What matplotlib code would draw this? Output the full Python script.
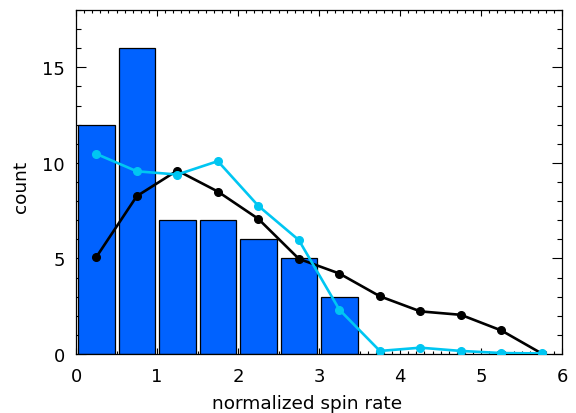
import matplotlib
matplotlib.use('Agg')
import matplotlib.pyplot as plt
import numpy as np
from matplotlib.ticker import MultipleLocator

# histogram of normalized spin rate
bin_centers = [0.25, 0.75, 1.25, 1.75, 2.25, 2.75, 3.25]
counts = [12, 16, 7, 7, 6, 5, 3]

# model curves
x_model = [0.25, 0.75, 1.25, 1.75, 2.25, 2.75, 3.25, 3.75, 4.25, 4.75, 5.25, 5.75]
black_y = [5.07, 8.26, 9.6, 8.5, 7.07, 4.98, 4.21, 3.02, 2.23, 2.05, 1.23, 0.02]
cyan_y = [10.47, 9.56, 9.39, 10.09, 7.75, 5.96, 2.32, 0.16, 0.33, 0.16, 0.05, 0.03]

fig = plt.figure(figsize=(5.76, 4.14), dpi=100)
ax = fig.add_axes([0.132, 0.1425, 0.844, 0.831])

ax.bar(bin_centers, counts, width=0.45, color='#0062ff', edgecolor='black', linewidth=0.9, zorder=2)
ax.plot(x_model, black_y, color='black', lw=1.9, marker='o', ms=5.5, zorder=3)
ax.plot(x_model, cyan_y, color='#00c6f2', lw=1.9, marker='o', ms=5.5, zorder=4)

ax.set_xlim(0, 6)
ax.set_ylim(0, 18)
ax.xaxis.set_major_locator(MultipleLocator(1))
ax.xaxis.set_minor_locator(MultipleLocator(0.1))
ax.yaxis.set_major_locator(MultipleLocator(5))
ax.yaxis.set_minor_locator(MultipleLocator(1))
ax.tick_params(axis='both', which='both', direction='in', top=True, right=True, width=0.8, labelsize=13)
ax.tick_params(axis='x', which='major', length=4.5, pad=9)
ax.tick_params(axis='x', which='minor', length=2.2)
ax.tick_params(axis='y', which='major', length=7, pad=8)
ax.tick_params(axis='y', which='minor', length=3.5)
for s in ax.spines.values():
    s.set_linewidth(0.9)

ax.set_xlabel('normalized spin rate', fontsize=13.3)
ax.set_ylabel('count', fontsize=13.3)
ax.xaxis.set_label_coords(0.476, -0.115)
ax.yaxis.set_label_coords(-0.095, 0.49)

fig.savefig('out.png', dpi=100)
